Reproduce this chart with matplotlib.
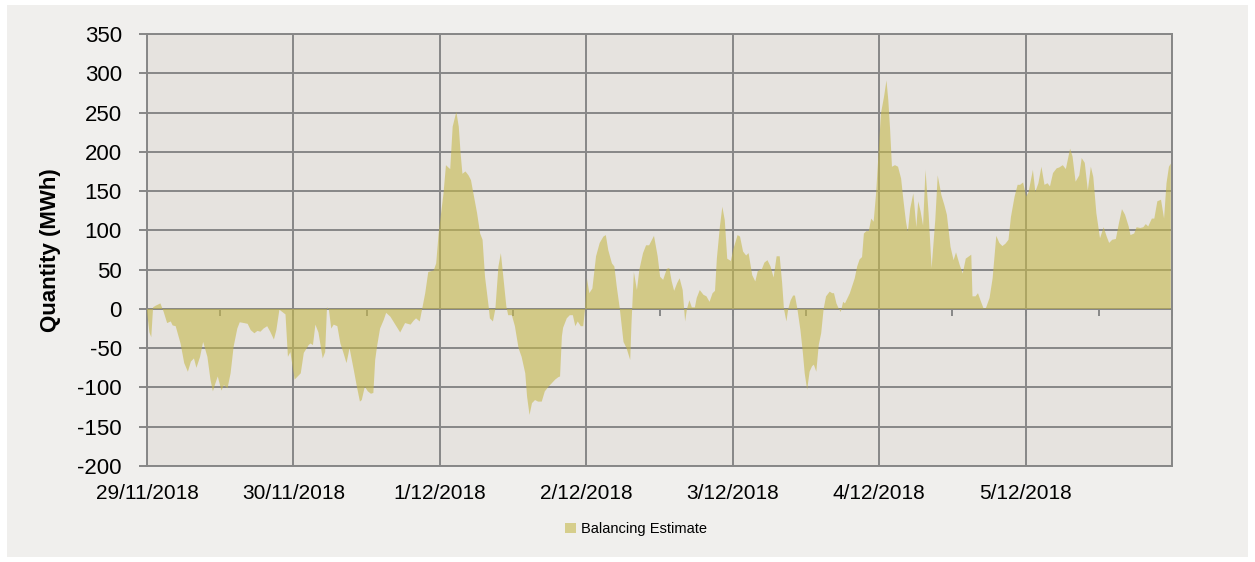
"""Balancing estimate area chart, 29/11/2018 - 5/12/2018."""

import matplotlib
matplotlib.use("Agg")
import matplotlib.pyplot as plt
from matplotlib import markers
from matplotlib.patches import Rectangle


# hours since 29/11/2018 00:00
HOURS = [
    0.0, 0.4, 0.7, 1.0, 1.4, 2.2, 2.7, 3.3, 3.9, 4.2, 4.7, 5.5, 6.1, 6.7, 7.2, 7.7,
    8.1, 8.7, 9.2, 9.9, 10.4, 10.8, 11.2, 11.6, 12.2, 12.6, 13.2, 13.7, 14.2, 14.8,
    15.2, 15.9, 16.5, 17.0, 17.6, 18.1, 18.6, 19.1, 19.7, 20.2, 20.8, 21.2, 21.7,
    22.2, 22.7, 23.1, 23.5,
    24.2, 25.2, 25.7, 26.5, 26.8, 27.2, 27.6, 28.1, 28.8, 29.2, 29.5, 29.8, 30.2,
    30.6, 31.2, 31.7, 32.2, 32.7, 33.2, 33.9, 34.4, 34.9, 35.2, 35.7, 36.2, 36.7,
    37.1, 37.4, 37.7, 38.2, 38.8, 39.2, 39.9, 40.7, 41.5, 42.3, 43.2, 43.7, 44.1,
    44.7, 45.1, 45.6, 46.1, 47.0, 47.4, 47.8,
    48.6, 49.0, 49.4, 49.7, 50.1, 50.7, 51.1, 51.4, 51.7, 52.2, 52.7, 53.1, 53.5,
    54.1, 54.6, 55.0, 55.4, 56.0, 56.2, 56.7, 57.1, 57.6, 58.0, 58.4, 58.9, 59.2,
    59.8, 60.3, 60.9, 61.4, 62.0, 62.3, 62.7, 63.1, 63.6, 64.1, 64.7, 65.2, 65.8,
    66.3, 66.9, 67.4, 67.7, 68.0, 68.2, 68.8, 69.3, 69.8, 70.2, 70.6, 71.1, 71.5,
    71.8,
    72.1, 72.5, 73.0, 73.6, 74.2, 74.8, 75.2, 75.6, 76.2, 76.6, 77.0, 77.5, 78.1,
    78.6, 79.2, 79.4, 79.8, 80.3, 80.7, 81.3, 81.8, 82.3, 82.7, 83.1, 83.7, 84.1,
    84.6, 85.2, 85.6, 86.0, 86.4, 86.9, 87.3, 87.8, 88.2, 88.5, 88.9, 89.3, 89.8,
    90.1, 90.6, 91.2, 91.7, 92.2, 92.7, 93.1, 93.4, 93.9, 94.3, 94.7, 95.1, 95.7,
    96.1, 96.8, 97.2, 97.7, 98.2, 98.6, 99.2, 99.7, 100.1, 100.8, 101.2, 101.7,
    102.2, 102.7, 103.2, 103.7, 104.1, 104.4, 104.8, 105.1, 105.5, 105.9, 106.2,
    106.6, 107.1, 107.5, 107.8, 108.2, 108.6, 109.0, 109.3, 109.7, 110.1, 110.5,
    110.9, 111.3, 111.9, 112.3, 112.6, 113.0, 113.4, 113.7, 114.1, 114.4, 115.2,
    116.0, 116.4, 116.8, 117.2, 117.5, 117.9, 118.3, 118.7, 119.1, 119.5, 119.9,
    120.3, 120.8, 121.2, 121.5, 121.8, 122.1, 122.6, 123.1, 123.6, 124.0, 124.4,
    124.7, 125.1, 125.6, 126.1, 126.4, 126.8, 127.2, 127.6, 128.1, 128.6, 129.2,
    129.6, 130.2, 130.7, 131.1, 131.7, 132.2, 132.6, 133.2, 133.7, 134.2, 135.1,
    135.3, 135.8, 136.2, 136.7, 137.1, 137.5, 138.1, 138.6, 139.2, 139.7, 140.2,
    140.7, 141.2, 141.6, 142.2, 142.7, 143.1, 143.6, 144.1, 144.5, 145.2, 145.6,
    146.1, 146.6, 147.1, 147.6, 148.0, 148.5, 149.1, 149.5, 150.1, 150.6, 151.3,
    151.7, 152.2, 152.8, 153.2, 153.7, 154.2, 154.7, 155.1, 155.6, 156.2, 156.8,
    157.3, 157.7, 158.2, 158.8, 159.3, 159.8, 160.3, 160.9, 161.2, 161.8, 162.2,
    162.8, 163.3, 163.7, 164.1, 164.7, 165.1, 165.6, 166.2, 166.7, 167.1, 167.5,
    167.8,
]

# MWh
VALUES = [
    -3, -30, -36, 2, 4, 7, -3, -18, -16, -21, -22, -44, -69, -80, -67, -63,
    -75, -61, -42, -61, -90, -105, -95, -86, -104, -97, -101, -82, -48, -25,
    -17, -18, -19, -27, -31, -28, -29, -25, -22, -29, -39, -27, -1,
    -4, -7, -61, -55,
    -90, -82, -56, -46, -44, -46, -20, -30, -63, -55, 2, 0, -25,
    -20, -22, -44, -56, -69, -50, -78, -99, -118, -116, -99, -105, -108,
    -107, -65, -48, -25, -14, -5, -10, -20, -30, -18, -20, -15, -12,
    -16, 0, 20, 47, 49, 58, 96,
    147, 183, 180, 178, 232, 251, 232, 198, 172, 175, 170, 164, 147,
    122, 96, 88, 41, 3, -12, -16, 0, 54, 71, 41, 3, -8,
    -8, -22, -50, -61, -82, -112, -135, -120, -116, -118, -118, -105, -99,
    -95, -90, -87, -86, -35, -24, -12, -8, -8, -22, -16, -22, -22,
    0,
    39, 20, 26, 67, 84, 92, 94, 75, 58, 54, 28, 0, -42,
    -50, -65, -20, 47, 24, 50, 71, 81, 81, 87, 93, 67, 41,
    37, 51, 52, 35, 23, 33, 39, 24, -16, 0, 11, 2, 2,
    14, 24, 18, 16, 9, 20, 23, 64, 105, 130, 113, 64, 61,
    76, 94, 92, 73, 68, 71, 43, 35, 48, 51, 59, 62,
    54, 40, 67, 67, 33, 0, -16, 0, 11, 17, 17,
    0, -27, -56, -82, -103, -80, -73, -71, -80, -46, -31,
    0, 16, 22, 20, 20, 7, 0, -4, 9, 7, 20,
    39, 54, 63, 66, 96, 99, 99, 115, 111, 147, 198,
    249, 270, 291, 266, 228, 181, 183, 181, 166, 137, 111,
    98, 128, 147, 104, 137, 124, 106, 177, 122, 52, 113,
    170, 145, 132, 120, 79, 62, 72, 56, 45, 64, 69,
    16, 16, 20, 9, 1, 1, 14, 39, 93, 84, 80,
    83, 88, 117, 143, 158, 158, 161, 143, 149, 177, 149,
    160, 181, 158, 160, 156, 173, 179, 180, 183, 178, 204,
    194, 162, 170, 192, 186, 151, 181, 168, 122, 90, 104,
    92, 84, 88, 89, 109, 127, 120, 105, 94, 96, 104,
    103, 104, 108, 105, 115, 115, 137, 139, 115, 160, 181,
    185,
]

DAY_LABELS = ["29/11/2018", "30/11/2018", "1/12/2018", "2/12/2018",
              "3/12/2018", "4/12/2018", "5/12/2018"]
Y_TICKS = list(range(-200, 351, 50))
SERIES_NAME = "Balancing Estimate"

GRID = "#878787"
PLOT_BG = "#E6E3DF"
OUTER_BG = "#F0EFED"
FILL = "#C6B84C"

plt.rcParams["font.family"] = ["Liberation Sans", "DejaVu Sans"]
plt.rcParams["axes.unicode_minus"] = False

fig = plt.figure(figsize=(12.55, 5.62), dpi=100)
fig.patch.set_facecolor("white")
fig.patches.append(Rectangle((7 / 1255, 5 / 562), 1241 / 1255, 552 / 562,
                             transform=fig.transFigure, facecolor=OUTER_BG,
                             edgecolor="none", zorder=-10))

ax = fig.add_axes([147 / 1255, 1 - 466 / 562, 1025 / 1255, 432 / 562])
ax.set_facecolor(PLOT_BG)

ax.fill_between(HOURS, VALUES, 0, facecolor=FILL, alpha=0.6, linewidth=0,
                zorder=3, label=SERIES_NAME)

# tick marks every 12 h sitting on the zero line
half_days = list(range(0, 169, 12))
ax.plot(half_days, [0] * len(half_days), linestyle="none",
        marker=markers.TICKDOWN, markersize=5, markeredgewidth=1.4,
        color=GRID, zorder=2)

ax.set_xlim(0, 168)
ax.set_ylim(-200, 350)
ax.set_xticks([24 * i for i in range(len(DAY_LABELS))] + [168])
ax.set_xticklabels(DAY_LABELS + [""])
ax.set_yticks(Y_TICKS)
ax.tick_params(axis="x", length=0, pad=13, labelsize=15)
ax.tick_params(axis="y", length=6, width=1.4, color=GRID, pad=12, labelsize=16)

ax.set_axisbelow(True)
ax.grid(True, color=GRID, linewidth=1.4)
ax.axhline(0, color=GRID, linewidth=1.4, zorder=2)
for spine in ax.spines.values():
    spine.set_color(GRID)
    spine.set_linewidth(1.4)

ax.set_ylabel("Quantity (MWh)", fontsize=16, fontweight="bold")
ax.yaxis.set_label_coords(-0.084, 0.5)

fig.legend(loc="center", bbox_to_anchor=(636 / 1255, 1 - 529 / 562),
           frameon=False, fontsize=10.5, handlelength=0.75, handleheight=0.75,
           handletextpad=0.3)

fig.savefig("out.png", dpi=100, facecolor=fig.get_facecolor())
